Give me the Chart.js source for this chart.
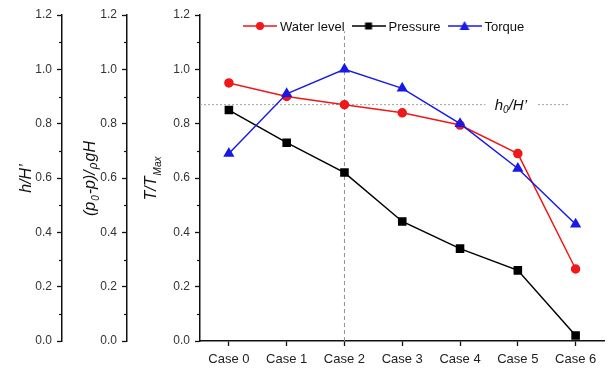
<!DOCTYPE html>
<html lang="en">
<head>
    <meta charset="UTF-8">
    <title>Water level, pressure and torque by case</title>
    <script src="https://cdn.jsdelivr.net/npm/chart.js"></script>
    <style>
        body {
            margin: 0;
            background: #fff;
        }
        .chart-box {
            width: 611px;
            height: 372px;
        }
    </style>
</head>
<body>
    <div class="chart-box">
        <canvas id="myChart"></canvas>
    </div>

    <script>
        const cases = ['Case 0', 'Case 1', 'Case 2', 'Case 3', 'Case 4', 'Case 5', 'Case 6'];
        const waterLevel = [0.95, 0.90, 0.87, 0.84, 0.795, 0.69, 0.265];
        const pressure = [0.85, 0.73, 0.62, 0.44, 0.34, 0.26, 0.02];
        const torque = [0.69, 0.91, 1.00, 0.93, 0.80, 0.635, 0.43];
        const yTicks = [0.0, 0.2, 0.4, 0.6, 0.8, 1.0, 1.2];

        // h0/H' reference line (gap left for its label) and the Case 2 marker line
        const refLevel = 0.87;
        const refLineX = [-0.5, 4.44, null, 5.35, 5.9];
        const refLabelX = 4.88;
        const markCase = 2;
        const markY = [0, 1.14];

        const FONT = '"Liberation Sans", Arial, sans-serif';
        const RED = '#f01818';
        const BLUE = '#1a1ae6';
        const BLACK = '#000000';

        // small canvas used as legend symbol: line with the marker in the middle
        function legendIcon(color, style) {
            const c = document.createElement('canvas');
            c.width = 34;
            c.height = 12;
            const g = c.getContext('2d');
            g.strokeStyle = color;
            g.fillStyle = color;
            g.lineWidth = 1.5;
            g.beginPath();
            g.moveTo(0, 6);
            g.lineTo(34, 6);
            g.stroke();
            g.beginPath();
            if (style === 'circle') {
                g.arc(17, 6, 4, 0, Math.PI * 2);
            } else if (style === 'rect') {
                g.rect(13.5, 2.5, 7, 7);
            } else {
                g.moveTo(17, 1);
                g.lineTo(22, 10);
                g.lineTo(12, 10);
                g.closePath();
            }
            g.fill();
            return c;
        }

        function yAxis(width, weight) {
            return {
                type: 'linear',
                position: 'left',
                min: 0,
                max: 1.2,
                weight: weight,
                afterFit: (s) => { s.width = width; },
                afterBuildTicks: (s) => { s.ticks = yTicks.map(v => ({ value: v })); },
                ticks: {
                    padding: 5,
                    color: '#333',
                    font: { family: FONT, size: 12 },
                    callback: (v) => Number(v).toFixed(1)
                },
                grid: {
                    drawOnChartArea: false,
                    drawTicks: true,
                    tickLength: 5,
                    tickColor: '#111',
                    tickWidth: 1.3
                },
                border: { color: '#111', width: 1.5 }
            };
        }

        // axis titles with subscripts, drawn rotated beside each y axis
        const titleParts = {
            yA: [{ t: 'h/H\u2019', s: 16, dy: 0 }],
            yB: [
                { t: '(p', s: 16, dy: 0 },
                { t: '0', s: 10, dy: 4 },
                { t: '-p)/', s: 16, dy: 0 },
                { t: '\u03c1', s: 12, dy: 2 },
                { t: 'gH', s: 16, dy: 0 }
            ],
            y: [
                { t: 'T/T', s: 16, dy: 0 },
                { t: 'Max', s: 10, dy: 5 }
            ]
        };
        const titleOffset = { yA: 25, yB: 27, y: 23 };

        function drawParts(ctx, parts, cx, cy, rotate) {
            ctx.save();
            ctx.translate(cx, cy);
            if (rotate) ctx.rotate(-Math.PI / 2);
            ctx.fillStyle = '#111';
            ctx.textBaseline = 'alphabetic';
            let total = 0;
            parts.forEach(p => {
                ctx.font = `italic ${p.s}px ${FONT}`;
                p.w = ctx.measureText(p.t).width + (rotate ? 1 : 0);
                total += p.w;
            });
            let x = -total / 2;
            parts.forEach(p => {
                ctx.font = `italic ${p.s}px ${FONT}`;
                ctx.fillText(p.t, x, 6 + p.dy);
                x += p.w;
            });
            ctx.restore();
        }

        const extrasPlugin = {
            id: 'extras',
            afterDraw(chart) {
                const ctx = chart.ctx;
                ['yA', 'yB', 'y'].forEach(id => {
                    const s = chart.scales[id];
                    // minor ticks
                    ctx.save();
                    ctx.strokeStyle = '#111';
                    ctx.lineWidth = 1.2;
                    for (let i = 0; i < yTicks.length - 1; i++) {
                        const py = Math.round(s.getPixelForValue((yTicks[i] + yTicks[i + 1]) / 2)) + 0.5;
                        ctx.beginPath();
                        ctx.moveTo(s.right, py);
                        ctx.lineTo(s.right - 3, py);
                        ctx.stroke();
                    }
                    ctx.restore();
                    drawParts(ctx, titleParts[id], s.left + titleOffset[id], (s.top + s.bottom) / 2, true);
                });

                // h0/H' label
                const xs = chart.scales.xRef;
                const ys = chart.scales.y;
                drawParts(ctx, [
                    { t: 'h', s: 15, dy: 0 },
                    { t: '0', s: 10, dy: 3 },
                    { t: '/H\u2019', s: 15, dy: 0 }
                ], xs.getPixelForValue(refLabelX), ys.getPixelForValue(refLevel) - 1, false);

                // legend inside the plot: line+marker symbol, then the name
                const area = chart.chartArea;
                let lx = area.left + 43;
                const ly = area.top + 11;
                ctx.save();
                ctx.font = `13px ${FONT}`;
                ctx.fillStyle = '#111';
                ctx.textBaseline = 'middle';
                chart.data.datasets.forEach(ds => {
                    if (!ds.legendIcon) return;
                    ctx.drawImage(ds.legendIcon, lx, ly - 6);
                    lx += ds.legendIcon.width + 3;
                    ctx.fillText(ds.label, lx, ly + 1);
                    lx += ctx.measureText(ds.label).width + 7;
                });
                ctx.restore();
            }
        };

        const ctx = document.getElementById('myChart').getContext('2d');

        const myChart = new Chart(ctx, {
            type: 'line',
            data: {
                labels: cases,
                datasets: [
                    {
                        label: 'Water level',
                        data: waterLevel,
                        borderColor: RED,
                        backgroundColor: RED,
                        borderWidth: 1.5,
                        pointStyle: 'circle',
                        pointRadius: 4,
                        legendIcon: legendIcon(RED, 'circle'),
                        order: 1
                    },
                    {
                        label: 'Pressure',
                        data: pressure,
                        borderColor: BLACK,
                        backgroundColor: BLACK,
                        borderWidth: 1.5,
                        pointStyle: 'rect',
                        pointRadius: 5,
                        legendIcon: legendIcon(BLACK, 'rect'),
                        order: 2
                    },
                    {
                        label: 'Torque',
                        data: torque,
                        borderColor: BLUE,
                        backgroundColor: BLUE,
                        borderWidth: 1.5,
                        pointStyle: 'triangle',
                        pointRadius: 5,
                        legendIcon: legendIcon(BLUE, 'triangle'),
                        order: 0
                    },
                    {
                        label: 'ref',
                        xAxisID: 'xRef',
                        data: refLineX.map(x => ({ x: x === null ? 4.9 : x, y: x === null ? null : refLevel })),
                        borderColor: '#a0a0a0',
                        borderWidth: 1,
                        borderDash: [2, 2],
                        pointRadius: 0,
                        spanGaps: false,
                        order: 5
                    },
                    {
                        label: 'mark',
                        xAxisID: 'xRef',
                        data: markY.map(y => ({ x: markCase, y: y })),
                        borderColor: '#909090',
                        borderWidth: 1,
                        borderDash: [4, 3],
                        pointRadius: 0,
                        order: 5
                    }
                ]
            },
            options: {
                responsive: true,
                maintainAspectRatio: false,
                animation: false,
                layout: { padding: { top: 15, right: 4, bottom: 0, left: 0 } },
                scales: {
                    x: {
                        type: 'category',
                        offset: true,
                        afterFit: (s) => { s.height = 31; },
                        ticks: {
                            padding: 6,
                            color: '#222',
                            font: { family: FONT, size: 13 }
                        },
                        grid: {
                            offset: false,
                            drawOnChartArea: false,
                            drawTicks: true,
                            tickLength: 5,
                            tickColor: '#111',
                            tickWidth: 1.3
                        },
                        border: { color: '#111', width: 1.5 }
                    },
                    xRef: {
                        type: 'linear',
                        min: -0.5,
                        max: 6.5,
                        display: false
                    },
                    yA: yAxis(62, 3),
                    yB: yAxis(65, 2),
                    y: yAxis(73, 1)
                },
                plugins: {
                    legend: { display: false },
                    tooltip: { enabled: false }
                }
            },
            plugins: [extrasPlugin]
        });
    </script>
</body>
</html>
